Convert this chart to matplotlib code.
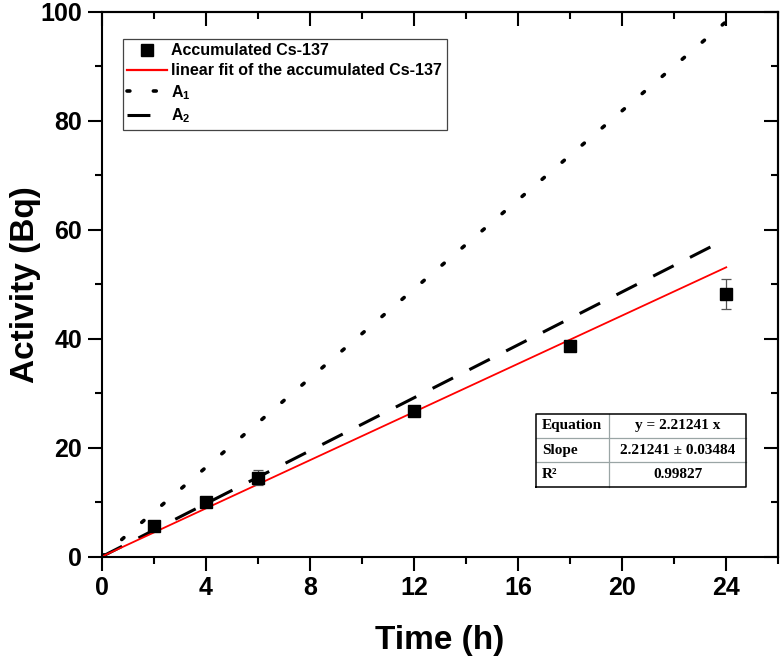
import matplotlib
matplotlib.use("Agg")
import matplotlib.pyplot as plt
from matplotlib.lines import Line2D
from matplotlib.ticker import MultipleLocator

# ── Data ─────────────────────────────────────────────────────────────────────
time_h    = [2, 4, 6, 12, 18, 24]
activity  = [5.6, 10.0, 14.5, 26.8, 38.6, 48.2]
act_err   = [0.4, 0.5, 1.35, 0.4, 0.5, 2.7]

line_t    = [0, 24]
fit_line  = [0, 53.1]     # y = 2.21241 x
a1_line   = [0, 98.2]
a2_line   = [0, 58.3]

table_rows = [("Equation", "y = 2.21241 x"),
              ("Slope", "2.21241 ± 0.03484"),
              ("R²", "0.99827")]

# ── Style ────────────────────────────────────────────────────────────────────
plt.rcParams.update({
    "font.family": "Liberation Sans",
    "font.weight": "bold",
    "mathtext.fontset": "custom",
    "mathtext.rm": "Liberation Sans:bold",
    "mathtext.bf": "Liberation Sans:bold",
    "mathtext.it": "Liberation Sans:bold",
})

DOT  = (0, (0.8, 6.5))
DASH = (0, (7.5, 6))

fig = plt.figure(figsize=(7.8, 6.58), dpi=100)
ax = fig.add_axes([0.1304, 0.154, 0.8674, 0.8282])

ax.plot(line_t, a1_line, color="black", lw=2.6, ls=DOT, dash_capstyle="round")
ax.plot(line_t, a2_line, color="black", lw=2.2, ls=DASH)
ax.plot(line_t, fit_line, color="#ff0000", lw=1.3)
ax.errorbar(time_h, activity, yerr=act_err, fmt="none", ecolor="#555555",
            elinewidth=0.9, capsize=3.6, capthick=0.9, zorder=4)
ax.plot(time_h, activity, ls="none", marker="s", ms=8.5, color="black", zorder=5)

ax.set_xlim(0, 26)
ax.set_ylim(0, 100)
ax.xaxis.set_major_locator(MultipleLocator(4))
ax.xaxis.set_minor_locator(MultipleLocator(2))
ax.yaxis.set_major_locator(MultipleLocator(20))
ax.yaxis.set_minor_locator(MultipleLocator(10))
ax.tick_params(which="major", direction="out", length=10, width=1.5,
               labelsize=18, pad=4)
ax.tick_params(which="minor", direction="out", length=5, width=1.5)
for sp in ax.spines.values():
    sp.set_linewidth(1.5)

# mirrored inward ticks on top / right
top = ax.secondary_xaxis("top")
top.xaxis.set_major_locator(MultipleLocator(4))
top.xaxis.set_minor_locator(MultipleLocator(2))
top.tick_params(which="major", direction="in", length=10, width=1.5, labeltop=False)
top.tick_params(which="minor", direction="in", length=5, width=1.5)
top.spines["top"].set_linewidth(1.5)
right = ax.secondary_yaxis("right")
right.yaxis.set_major_locator(MultipleLocator(20))
right.yaxis.set_minor_locator(MultipleLocator(10))
right.tick_params(which="major", direction="in", length=10, width=1.5, labelright=False)
right.tick_params(which="minor", direction="in", length=5, width=1.5)
right.spines["right"].set_linewidth(1.5)

ax.set_xlabel("Time (h)", fontsize=24, fontweight="bold", labelpad=18)
ax.set_ylabel("Activity (Bq)", fontsize=24, fontweight="bold", labelpad=0)

# ── Legend ───────────────────────────────────────────────────────────────────
handles = [
    Line2D([], [], ls="none", marker="s", ms=8, color="black"),
    Line2D([], [], color="#ff0000", lw=1.6),
    Line2D([], [], color="black", lw=2.6, ls=DOT, dash_capstyle="round"),
    Line2D([], [], color="black", lw=2.2, ls=DASH),
]
labels = ["Accumulated Cs-137", "linear fit of the accumulated Cs-137",
          r"$\mathbf{A_1}$", r"$\mathbf{A_2}$"]
leg = ax.legend(handles, labels, loc="upper left", bbox_to_anchor=(0.031, 0.9505),
                borderaxespad=0, fancybox=False, framealpha=1, edgecolor="#444444",
                prop={"family": "Liberation Sans", "weight": "bold", "size": 11.5},
                handlelength=2.45, handletextpad=0.3, labelspacing=0.3,
                borderpad=0.3)
leg.get_frame().set_linewidth(0.9)

# ── Fit table ────────────────────────────────────────────────────────────────
x0, xm, x1 = 0.642, 0.750, 0.953
y1, y0 = 0.2624, 0.1284
rh = (y1 - y0) / len(table_rows)
for i in range(1, len(table_rows)):
    yy = y1 - i * rh
    ax.plot([x0, x1], [yy, yy], transform=ax.transAxes, color="#9aa5a5", lw=0.9,
            zorder=6)
ax.plot([xm, xm], [y0, y1], transform=ax.transAxes, color="#9aa5a5", lw=0.9, zorder=6)
ax.plot([x0, x1, x1, x0, x0], [y0, y0, y1, y1, y0], transform=ax.transAxes,
        color="black", lw=1.1, zorder=7)
for i, (k, v) in enumerate(table_rows):
    yc = y1 - (i + 0.5) * rh
    ax.text(x0 + 0.009, yc, k, transform=ax.transAxes, ha="left", va="center",
            family="Liberation Serif", fontweight="bold", fontsize=11)
    ax.text((xm + x1) / 2, yc, v, transform=ax.transAxes, ha="center", va="center",
            family="Liberation Serif", fontweight="bold", fontsize=11)

fig.savefig("out.png", dpi=100, facecolor="white")
